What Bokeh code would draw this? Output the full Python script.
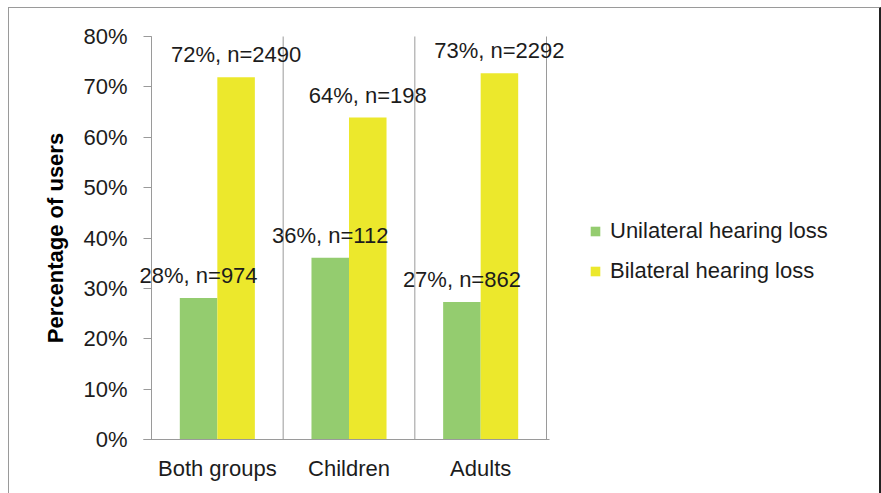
import numpy as np
from bokeh.plotting import figure
from bokeh.models import (ColumnDataSource, Range1d, FixedTicker, LabelSet,
                          Legend, LegendItem)
from bokeh.core.properties import value
from bokeh.embed import file_html
from bokeh.resources import INLINE

# ---- data ----
categories = ["Both groups", "Children", "Adults"]
series_names = ["Unilateral hearing loss", "Bilateral hearing loss"]
unilateral_pct = [28.1, 36.1, 27.3]
bilateral_pct = [71.9, 63.9, 72.7]
unilateral_n = [974, 112, 862]
bilateral_n = [2490, 198, 2292]
y_ticks = [0, 10, 20, 30, 40, 50, 60, 70, 80]

# ---- styling / layout (pixel positions within the figure) ----
FONT = "Liberation Sans"
TXT = "#1c1c1c"
GRID = "#9a9a9a"
GREEN = "#94cc6f"
YELLOW = "#ece82c"
BAR_W = 0.285
FIG_W, FIG_H = 873, 486
FRAME_L, FRAME_R, FRAME_T, FRAME_B = 12, 869, 7, 483   # frame box in figure px
AXIS_X, AXIS_R = 142, 537       # value-axis / last separator x in figure px
AXIS_TOP, AXIS_BOT = 28, 431    # 80% / 0% y in figure px
LEGEND_LEFT, LEGEND_BOTTOM = 580, 276

n_cat = len(categories)
px_per_cat = (AXIS_R - AXIS_X) / n_cat
x_start = -(AXIS_X - FRAME_L) / px_per_cat
x_end = n_cat + (FRAME_R - AXIS_R) / px_per_cat
px_per_pct = (AXIS_BOT - AXIS_TOP) / y_ticks[-1]
y_start = -(FRAME_B - AXIS_BOT) / px_per_pct
y_end = y_ticks[-1] + (AXIS_TOP - FRAME_T) / px_per_pct

centers = np.arange(n_cat) + 0.5
boundaries = np.arange(n_cat + 1)
x_uni = centers - BAR_W / 2
x_bi = centers + BAR_W / 2

src_uni = ColumnDataSource(dict(
    x=x_uni, top=unilateral_pct,
    text=[f"{round(v)}%, n={n}" for v, n in zip(unilateral_pct, unilateral_n)]))
src_bi = ColumnDataSource(dict(
    x=x_bi, top=bilateral_pct,
    text=[f"{round(v)}%, n={n}" for v, n in zip(bilateral_pct, bilateral_n)]))

p = figure(width=FIG_W, height=FIG_H,
           x_range=Range1d(x_start, x_end), y_range=Range1d(y_start, y_end),
           output_backend="svg", toolbar_location=None,
           min_border_left=FRAME_L, min_border_top=FRAME_T,
           min_border_bottom=FIG_H - FRAME_B, min_border_right=FIG_W - FRAME_R)
p.margin = (7, 0, 0, 8)
p.styles = {"border-top": "1px solid #9a9a9a", "border-left": "1px solid #9a9a9a",
            "border-right": "2px solid #222222"}
p.outline_line_color = None
p.background_fill_color = "white"
p.border_fill_color = "white"
p.xgrid.grid_line_color = None
p.ygrid.grid_line_color = None

# vertical separators at category boundaries, spanning the value range
p.segment(x0=boundaries, y0=0, x1=boundaries, y1=y_ticks[-1],
          line_color=GRID, line_width=1)

r_uni = p.vbar(x="x", top="top", bottom=0, width=BAR_W, source=src_uni,
               fill_color=GREEN, line_color=None)
r_bi = p.vbar(x="x", top="top", bottom=0, width=BAR_W, source=src_bi,
              fill_color=YELLOW, line_color=None)

for src in (src_uni, src_bi):
    p.add_layout(LabelSet(x="x", y="top", text="text", source=src,
                          y_offset=15, text_align="center",
                          text_baseline="alphabetic", text_font=value(FONT),
                          text_font_size="22px", text_color=TXT))

# x axis (drawn at y = 0)
xa = p.xaxis[0]
xa.fixed_location = 0
xa.ticker = FixedTicker(ticks=list(centers))
xa.major_label_overrides = {float(c): name for c, name in zip(centers, categories)}
xa.bounds = (-0.06, n_cat + 0.02)
xa.major_tick_line_color = None
xa.minor_tick_line_color = None
xa.axis_line_color = GRID
xa.major_label_standoff = 10
xa.major_label_text_font = FONT
xa.major_label_text_font_size = "22px"
xa.major_label_text_color = TXT

# y axis (drawn at x = 0, the left edge of the first category)
ya = p.yaxis[0]
ya.fixed_location = 0
ya.bounds = (0, y_ticks[-1])
ya.ticker = FixedTicker(ticks=y_ticks)
ya.major_label_overrides = {t: f"{t}%" for t in y_ticks}
ya.major_tick_out = 8
ya.major_tick_in = 0
ya.major_tick_line_color = GRID
ya.minor_tick_line_color = None
ya.axis_line_color = GRID
ya.major_label_standoff = 16
ya.major_label_text_font = FONT
ya.major_label_text_font_size = "22px"
ya.major_label_text_color = TXT
ya.axis_label = "Percentage of users"
ya.axis_label_text_font = FONT
ya.axis_label_text_font_style = "bold"
ya.axis_label_text_font_size = "22px"
ya.axis_label_text_color = "#000000"
ya.axis_label_standoff = 12

legend = Legend(items=[LegendItem(label=series_names[0], renderers=[r_uni]),
                       LegendItem(label=series_names[1], renderers=[r_bi])],
                location=(LEGEND_LEFT - FRAME_L, FRAME_B - LEGEND_BOTTOM),
                orientation="vertical",
                glyph_width=12, glyph_height=12, label_standoff=9,
                spacing=14, padding=0, margin=0,
                label_text_font=FONT, label_text_font_size="22px",
                label_text_color=TXT, border_line_color=None,
                background_fill_alpha=0)
p.add_layout(legend)

open("out.html", "w").write(file_html(p, INLINE))
